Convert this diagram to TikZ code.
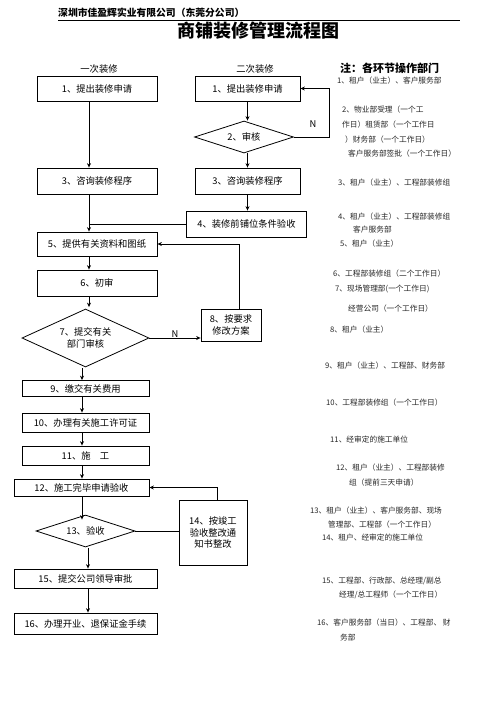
\documentclass[tikz,border=0pt]{standalone}
\usepackage{fontspec}
\setmainfont{Noto Sans CJK SC}
\usetikzlibrary{shapes.geometric,arrows.meta}
\tikzset{
  box/.style={draw, line width=0.8pt, inner sep=0pt, align=center, font=\fontsize{9.3}{11.5}\selectfont},
  dia/.style={draw, diamond, line width=0.8pt, inner sep=0pt, align=center, font=\fontsize{9.3}{11.5}\selectfont},
  arr/.style={line width=0.8pt, -{Stealth[length=4.5pt,width=4pt]}},
  ln/.style={line width=0.8pt},
  note/.style={anchor=west, inner sep=0pt, font=\fontsize{7.7}{9}\selectfont, text=black!85},
  lab/.style={inner sep=0pt, font=\fontsize{9.3}{11}\selectfont}
}
\begin{document}
\begin{tikzpicture}[x=1pt,y=-1pt]
\useasboundingbox (0,0) rectangle (496,702);
% header
\node[anchor=west, inner sep=0pt, font=\bfseries\fontsize{9.8}{11}\selectfont] (hdr) at (58,13) {深圳市佳盈辉实业有限公司（东莞分公司）};
\coordinate (hl1) at (58,20);
\coordinate (hl2) at (460,20);
\draw[line width=0.8pt] (hl1) -- (hl2);
\node[inner sep=0pt, font=\bfseries\fontsize{18}{20}\selectfont] (title) at (258.5,31) {商铺装修管理流程图};
% column labels
\node[lab] (c1) at (99,69) {一次装修};
\node[lab] (c2) at (255,69) {二次装修};
% column coordinates
\coordinate (cA) at (89,0);
\coordinate (cB) at (82,0);
\coordinate (cC) at (88,0);
\coordinate (cN) at (329,0);
\coordinate (c8) at (239,0);
\coordinate (c14) at (217,0);
% left column
\node[box, minimum width=120pt, minimum height=25pt] (L1) at (97,89) {1、提出装修申请};
\node[box, minimum width=120pt, minimum height=26pt] (L3) at (97,181) {3、咨询装修程序};
\node[box, minimum width=120pt, minimum height=24pt] (L5) at (97,244) {5、提供有关资料和图纸};
\node[box, minimum width=120pt, minimum height=26pt] (L6) at (97,283) {6、初审};
\node[dia, aspect=2.2, minimum width=127pt, minimum height=58pt] (D7) at (85.5,338) {7、提交有关\\部门审核};
\node[box, minimum width=60pt, minimum height=32pt] (B8) at (231,325) {8、按要求\\修改方案};
\node[box, minimum width=127pt, minimum height=16pt] (L9) at (85.5,388.5) {9、缴交有关费用};
\node[box, minimum width=127pt, minimum height=19pt] (L10) at (85.5,422.5) {10、办理有关施工许可证};
\node[box, minimum width=127pt, minimum height=19pt] (L11) at (85.5,455.5) {11、施\quad 工};
\node[box, minimum width=135pt, minimum height=17pt] (L12) at (81.5,487.5) {12、施工完毕申请验收};
\node[dia, aspect=3, minimum width=99pt, minimum height=32pt] (D13) at (85.5,531) {13、验收};
\node[box, minimum width=68pt, minimum height=65pt] (B14) at (213,532.5) {14、按竣工\\验收整改通\\知书整改};
\node[box, minimum width=143pt, minimum height=19pt] (L15) at (85.5,578.5) {15、提交公司领导审批};
\node[box, minimum width=143pt, minimum height=21pt] (L16) at (85.5,623.5) {16、办理开业、退保证金手续};
% right column
\node[box, minimum width=105pt, minimum height=25pt] (R1) at (247.5,88.5) {1、提出装修申请};
\node[dia, aspect=3, minimum width=99pt, minimum height=32pt] (D2) at (244,137) {2、审核};
\node[box, minimum width=105pt, minimum height=26pt] (R3) at (247.5,181) {3、咨询装修程序};
\node[box, minimum width=120pt, minimum height=26pt] (R4) at (246.5,224) {4、装修前铺位条件验收};
% connectors left
\draw[arr] (L1.south -| cA) -- (L3.north -| cA);
\draw[arr] (L3.south -| cA) -- (L5.north -| cA);
\draw[ln] (R4.west) -- (R4.west -| cA);
\draw[arr] (L5.south -| cA) -- (L6.north -| cA);
\draw[arr] (L6.south -| cA) -- ([yshift=1.5pt]D7.north -| cA);
\draw[arr] (D7.east) -- node[above=0pt, lab] (n7) {N} (D7.east -| B8.west);
\draw[arr] (B8.north -| c8) |- (L5.east);
\draw[arr] ([yshift=-1pt]D7.south -| cB) -- (L9.north -| cB);
\draw[arr] (L9.south -| cB) -- (L10.north -| cB);
\draw[arr] (L10.south -| cB) -- (L11.north -| cB);
\draw[arr] (L11.south -| cB) -- (L12.north -| cB);
\draw[arr] (L12.south -| cB) -- ([yshift=-5pt]D13.north -| cB);
\draw[ln] (D13.east) -- (D13.east -| B14.west);
\draw[arr] (B14.north -| c14) |- (L12.east);
\draw[arr] ([yshift=-0.5pt]D13.south -| cC) -- (L15.north -| cC);
\draw[arr] (L15.south -| cC) -- (L16.north -| cC);
% connectors right
\draw[arr] (R1.south) -- (D2.north -| R1.south);
\draw[arr] (D2.east) -- (D2.east -| cN) |- (R1.east);
\node[lab] (nN) at (313,124) {N};
\draw[arr] (D2.south -| R1.south) -- (R3.north);
\draw[arr] (R3.south) -- (R4.north -| R3.south);
% notes
\node[anchor=west, inner sep=0pt, font=\bfseries\fontsize{11}{12}\selectfont] (nh) at (340,68) {注：各环节操作部门};
\node[note] (t1) at (337,81) {1、租户（业主）、客户服务部};
\node[note] (t2a) at (342,110) {2、物业部受理（一个工};
\node[note] (t2b) at (342,125) {作日）租赁部（一个工作日};
\node[note] (t2c) at (345,140) {）财务部（一个工作日）};
\node[note] (t2d) at (348,154) {客户服务部签批（一个工作日）};
\node[note] (t3) at (338,183) {3、租户（业主）、工程部装修组};
\node[note] (t4a) at (338,217) {4、租户（业主）、工程部装修组};
\node[note] (t4b) at (353,230) {客户服务部};
\node[note] (t5) at (340,244) {5、租户（业主）};
\node[note] (t6) at (333,274) {6、工程部装修组（二个工作日）};
\node[note] (t7a) at (335,289) {7、现场管理部(一个工作日)};
\node[note] (t7b) at (348,309) {经营公司（一个工作日）};
\node[note] (t8) at (330,330) {8、租户（业主）};
\node[note] (t9) at (325,366) {9、租户（业主）、工程部、财务部};
\node[note] (t10) at (326,403) {10、工程部装修组（一个工作日）};
\node[note] (t11) at (330,440) {11、经审定的施工单位};
\node[note] (t12a) at (336,468) {12、租户（业主）、工程部装修};
\node[note] (t12b) at (349,483) {组（提前三天申请）};
\node[note] (t13a) at (310,511) {13、租户（业主）、客户服务部、现场};
\node[note] (t13b) at (328,525) {管理部、工程部（一个工作日）};
\node[note] (t14) at (322,538) {14、租户、经审定的施工单位};
\node[note] (t15a) at (322,581) {15、工程部、行政部、总经理/副总};
\node[note] (t15b) at (339,595) {经理/总工程师（一个工作日）};
\node[note] (t16a) at (317,623) {16、客户服务部（当日）、工程部、 财};
\node[note] (t16b) at (340,638) {务部};
\end{tikzpicture}
\end{document}
